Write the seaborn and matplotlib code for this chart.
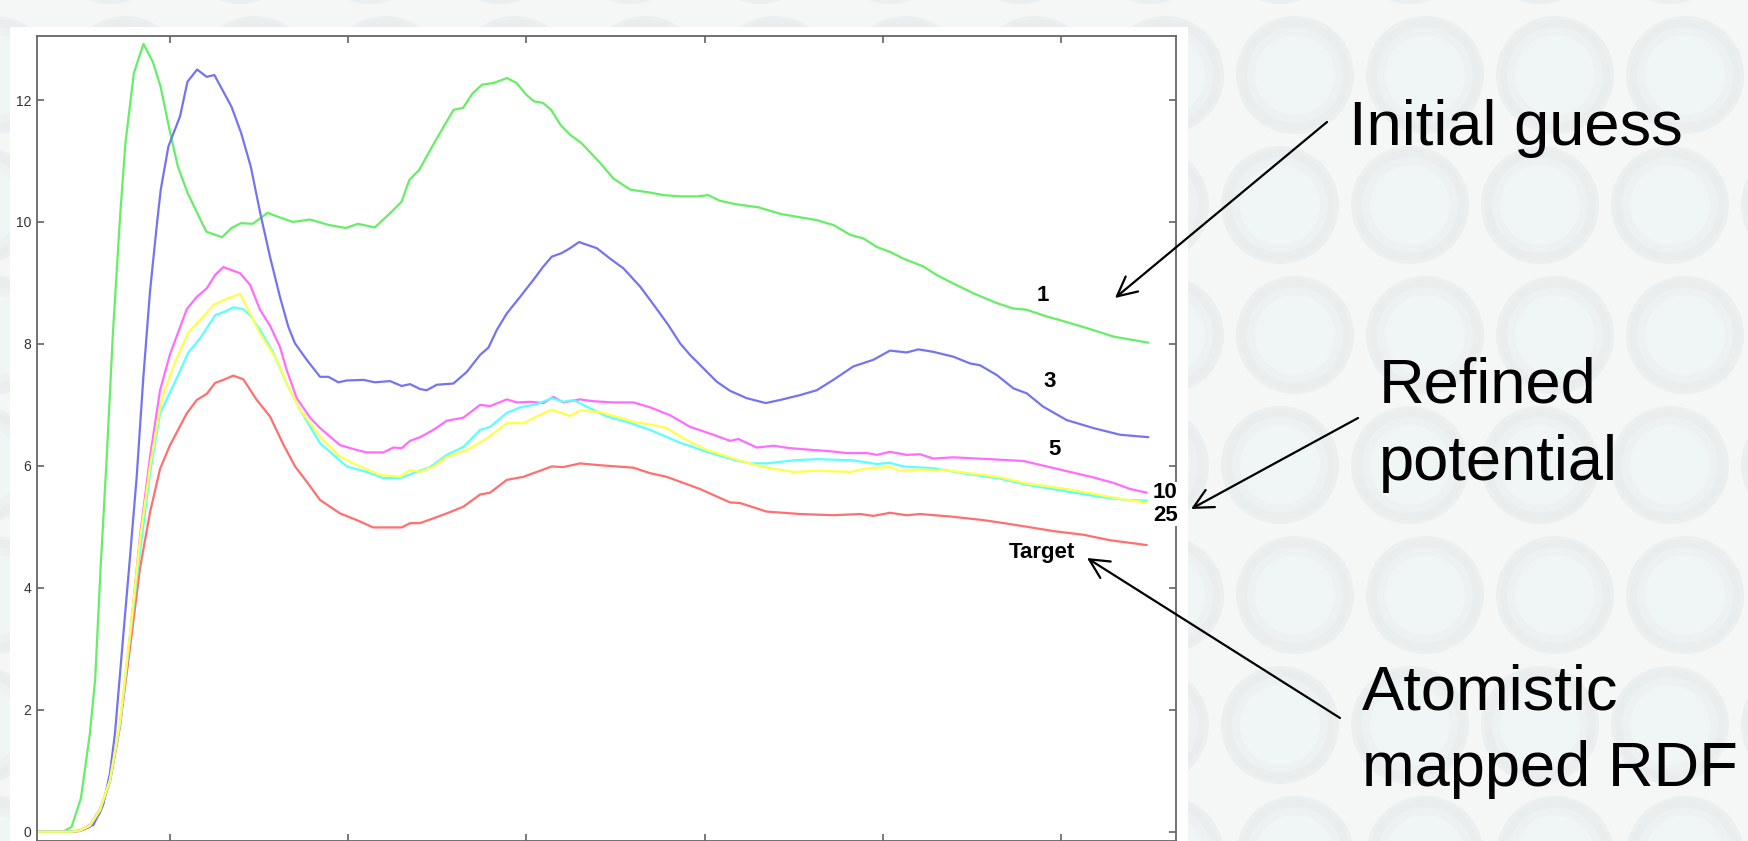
import numpy as np
import pandas as pd
import matplotlib
matplotlib.use("Agg")
import matplotlib.pyplot as plt
import seaborn as sns
from matplotlib.patches import Ellipse, Rectangle, FancyArrowPatch

# ---------------- data ----------------
r_1 = [0.254, 0.40, 0.448, 0.50, 0.55, 0.58, 0.61, 0.645, 0.68, 0.72, 0.75, 0.797, 0.851, 0.903, 0.947,
       1.001, 1.044, 1.098, 1.152, 1.204, 1.292, 1.345, 1.398, 1.464, 1.548, 1.592, 1.689, 1.786, 1.892,
       1.987, 2.054, 2.149, 2.237, 2.299, 2.343, 2.397, 2.493, 2.591, 2.644, 2.698, 2.75, 2.816, 2.891,
       2.944, 2.998, 3.042, 3.094, 3.138, 3.192, 3.245, 3.31, 3.413, 3.489, 3.583, 3.677, 3.771, 3.864,
       3.958, 4.021, 4.083, 4.177, 4.303, 4.428, 4.629, 4.722, 4.816, 4.891, 4.966, 5.04, 5.115, 5.227,
       5.302, 5.396, 5.508, 5.639, 5.733, 5.807, 5.919, 5.994, 6.144, 6.294, 6.49]
v_1 = [0, 0, 0.08, 0.55, 1.6, 2.5, 4.3, 6.15, 8.2, 10.1, 11.3, 12.44, 12.92, 12.63, 12.22,
       11.46, 10.91, 10.48, 10.15, 9.84, 9.75, 9.90, 9.98, 9.97, 10.15, 10.10, 10.0, 10.04, 9.95,
       9.90, 9.97, 9.91, 10.15, 10.33, 10.69, 10.85, 11.35, 11.84, 11.87, 12.11, 12.25, 12.28, 12.36,
       12.28, 12.09, 11.98, 11.95, 11.84, 11.59, 11.43, 11.29, 10.97, 10.71, 10.53, 10.49, 10.44, 10.42,
       10.42, 10.44, 10.35, 10.29, 10.24, 10.13, 10.03, 9.95, 9.79, 9.73, 9.59, 9.51, 9.40, 9.27,
       9.13, 8.99, 8.83, 8.67, 8.58, 8.56, 8.45, 8.39, 8.26, 8.12, 8.02]

r_3 = [0.254, 0.45, 0.495, 0.57, 0.625, 0.663, 0.691, 0.738, 0.776, 0.813, 0.85, 0.888, 0.927, 0.948,
       0.991, 1.056, 1.098, 1.152, 1.206, 1.249, 1.345, 1.399, 1.453, 1.506, 1.561, 1.617, 1.664, 1.701,
       1.767, 1.842, 1.889, 1.945, 1.992, 2.086, 2.15, 2.235, 2.30, 2.347, 2.403, 2.44, 2.497, 2.59,
       2.665, 2.74, 2.787, 2.834, 2.89, 2.964, 3.039, 3.095, 3.142, 3.198, 3.245, 3.295, 3.395, 3.469,
       3.544, 3.638, 3.722, 3.796, 3.862, 3.918, 3.993, 4.068, 4.143, 4.236, 4.343, 4.423, 4.535, 4.629,
       4.722, 4.834, 4.947, 5.04, 5.134, 5.199, 5.283, 5.396, 5.489, 5.545, 5.639, 5.733, 5.807, 5.9,
       6.032, 6.181, 6.331, 6.49]
v_3 = [0, 0, 0.02, 0.11, 0.44, 0.96, 1.61, 3.23, 4.52, 5.82, 7.44, 8.87, 9.98, 10.53,
       11.24, 11.73, 12.30, 12.50, 12.38, 12.41, 11.89, 11.46, 10.91, 10.15, 9.43, 8.77, 8.28, 8.01,
       7.74, 7.46, 7.46, 7.37, 7.40, 7.41, 7.37, 7.39, 7.31, 7.34, 7.26, 7.24, 7.33, 7.35,
       7.54, 7.82, 7.94, 8.23, 8.50, 8.77, 9.05, 9.27, 9.43, 9.49, 9.57, 9.67, 9.57, 9.40,
       9.24, 8.94, 8.61, 8.31, 8.01, 7.82, 7.60, 7.38, 7.23, 7.11, 7.03, 7.08, 7.16, 7.24,
       7.41, 7.63, 7.74, 7.89, 7.86, 7.91, 7.87, 7.79, 7.68, 7.65, 7.49, 7.27, 7.19, 6.97,
       6.75, 6.62, 6.51, 6.47]

r_5 = [0.254, 0.45, 0.495, 0.551, 0.607, 0.663, 0.719, 0.776, 0.832, 0.888, 0.944, 1.0, 1.094, 1.150,
       1.206, 1.253, 1.299, 1.393, 1.449, 1.505, 1.561, 1.617, 1.655, 1.711, 1.786, 1.842, 1.954, 2.048,
       2.104, 2.197, 2.253, 2.30, 2.347, 2.403, 2.478, 2.553, 2.646, 2.74, 2.796, 2.89, 2.946, 3.02,
       3.095, 3.151, 3.207, 3.30, 3.375, 3.488, 3.60, 3.694, 3.806, 3.918, 4.049, 4.143, 4.189, 4.293,
       4.386, 4.479, 4.61, 4.704, 4.797, 4.91, 4.966, 5.04, 5.134, 5.209, 5.283, 5.396, 5.527, 5.658,
       5.789, 5.92, 6.051, 6.182, 6.294, 6.388, 6.481]
v_5 = [0, 0, 0.02, 0.11, 0.37, 0.83, 1.73, 3.23, 4.85, 6.15, 7.24, 7.83, 8.57, 8.77,
       8.91, 9.13, 9.26, 9.16, 8.97, 8.56, 8.30, 7.95, 7.57, 7.11, 6.79, 6.62, 6.34, 6.26,
       6.22, 6.22, 6.30, 6.29, 6.41, 6.47, 6.59, 6.74, 6.79, 7.0, 6.98, 7.09, 7.04, 7.05,
       7.03, 7.13, 7.04, 7.09, 7.06, 7.04, 7.04, 6.96, 6.83, 6.64, 6.51, 6.41, 6.44, 6.30,
       6.33, 6.29, 6.26, 6.24, 6.21, 6.21, 6.18, 6.23, 6.18, 6.19, 6.12, 6.14, 6.12, 6.10,
       6.08, 5.99, 5.90, 5.81, 5.72, 5.62, 5.56]

r_10 = [0.254, 0.45, 0.495, 0.551, 0.607, 0.663, 0.719, 0.776, 0.832, 0.888, 0.944, 1.038, 1.103, 1.168,
        1.253, 1.309, 1.355, 1.411, 1.449, 1.505, 1.58, 1.655, 1.73, 1.842, 1.992, 2.104, 2.197, 2.291,
        2.366, 2.459, 2.553, 2.646, 2.74, 2.796, 2.89, 2.964, 3.058, 3.142, 3.207, 3.264, 3.339, 3.451,
        3.563, 3.694, 3.862, 4.012, 4.161, 4.255, 4.348, 4.498, 4.629, 4.834, 4.966, 5.04, 5.115, 5.283,
        5.47, 5.658, 5.807, 6.032, 6.219, 6.369, 6.481]
v_10 = [0, 0, 0.02, 0.10, 0.35, 0.83, 1.75, 3.2, 4.6, 5.88, 6.86, 7.44, 7.86, 8.09,
        8.47, 8.53, 8.60, 8.57, 8.47, 8.23, 7.85, 7.35, 6.92, 6.37, 5.99, 5.90, 5.80, 5.80,
        5.88, 5.98, 6.18, 6.31, 6.59, 6.64, 6.87, 6.96, 7.01, 7.11, 7.05, 7.08, 6.97, 6.81,
        6.72, 6.59, 6.38, 6.23, 6.10, 6.04, 6.04, 6.09, 6.11, 6.09, 6.03, 6.05, 5.99, 5.96,
        5.87, 5.79, 5.69, 5.58, 5.49, 5.44, 5.43]

r_25 = [0.254, 0.45, 0.495, 0.551, 0.607, 0.663, 0.719, 0.776, 0.832, 0.888, 0.944, 0.962, 1.028, 1.103,
        1.187, 1.243, 1.318, 1.393, 1.449, 1.505, 1.599, 1.655, 1.73, 1.842, 1.954, 2.066, 2.178, 2.291,
        2.347, 2.403, 2.478, 2.553, 2.665, 2.777, 2.89, 2.983, 3.058, 3.142, 3.245, 3.301, 3.413, 3.525,
        3.60, 3.694, 3.787, 3.881, 4.012, 4.161, 4.311, 4.498, 4.629, 4.816, 4.91, 5.04, 5.097, 5.209,
        5.377, 5.564, 5.658, 5.807, 6.032, 6.219, 6.369, 6.481]
v_25 = [0, 0, 0.02, 0.10, 0.36, 0.85, 1.80, 3.25, 4.80, 6.0, 6.95, 7.18, 7.70, 8.19,
        8.45, 8.64, 8.74, 8.82, 8.50, 8.17, 7.74, 7.35, 6.92, 6.48, 6.15, 5.99, 5.85, 5.82,
        5.93, 5.90, 5.99, 6.15, 6.26, 6.45, 6.70, 6.70, 6.81, 6.92, 6.82, 6.91, 6.88, 6.79,
        6.72, 6.68, 6.62, 6.45, 6.26, 6.12, 5.99, 5.90, 5.92, 5.90, 5.96, 5.98, 5.92, 5.94,
        5.92, 5.85, 5.81, 5.71, 5.62, 5.52, 5.44, 5.40]

r_target = [0.254, 0.45, 0.495, 0.551, 0.607, 0.663, 0.719, 0.776, 0.832, 0.888, 0.944, 1.0, 1.094, 1.15,
            1.206, 1.253, 1.299, 1.355, 1.411, 1.487, 1.561, 1.636, 1.702, 1.767, 1.842, 1.954, 2.048,
            2.141, 2.216, 2.30, 2.347, 2.403, 2.478, 2.553, 2.646, 2.74, 2.796, 2.89, 2.983, 3.058, 3.142,
            3.207, 3.301, 3.413, 3.507, 3.60, 3.694, 3.787, 3.974, 4.143, 4.199, 4.348, 4.535, 4.722,
            4.872, 4.947, 5.04, 5.134, 5.209, 5.377, 5.564, 5.658, 5.789, 5.957, 6.125, 6.275, 6.406, 6.481]
v_target = [0, 0, 0.01, 0.08, 0.31, 0.83, 1.73, 3.03, 4.33, 5.24, 5.95, 6.34, 6.86, 7.08,
            7.18, 7.36, 7.41, 7.48, 7.42, 7.08, 6.81, 6.35, 5.99, 5.74, 5.44, 5.22, 5.11,
            4.99, 4.99, 4.99, 5.06, 5.06, 5.14, 5.22, 5.33, 5.53, 5.56, 5.77, 5.82, 5.90, 5.99,
            5.98, 6.04, 6.01, 5.99, 5.97, 5.88, 5.82, 5.62, 5.40, 5.39, 5.25, 5.21, 5.19,
            5.21, 5.18, 5.23, 5.19, 5.21, 5.17, 5.11, 5.07, 5.01, 4.93, 4.87, 4.78, 4.73, 4.70]

series_names = ["Target", "1", "3", "5", "10", "25"]
series_colors = ["#ff6f6f", "#66ee66", "#7474f2", "#ff6cff", "#5cffff", "#ffff4a"]
y_ticks = [0, 2, 4, 6, 8, 10, 12]
x_ticks = [1, 2, 3, 4, 5, 6]

curve_labels = ["1", "3", "5", "10", "25", "Target"]
curve_label_r = [5.90, 5.938, 5.966, 6.584, 6.584, 5.892]
curve_label_v = [8.80, 7.38, 6.26, 5.56, 5.19, 4.58]

# ---------------- build long table ----------------
frames = []
for name, rr, vv in [("Target", r_target, v_target), ("1", r_1, v_1), ("3", r_3, v_3),
                     ("5", r_5, v_5), ("10", r_10, v_10), ("25", r_25, v_25)]:
    frames.append(pd.DataFrame({"r": rr, "g": vv, "series": name}))
df = pd.concat(frames, ignore_index=True)

# ---------------- figure ----------------
sns.set_theme(style="white")
plt.rcParams["font.family"] = ["Liberation Sans", "DejaVu Sans"]

W, H = 1749, 841
fig = plt.figure(figsize=(W / 100, H / 100), dpi=100)
fig.patch.set_facecolor("#f5f7f7")

# faint, soft decorative sphere pattern in the background
for j, cy in enumerate(np.arange(-55, H + 130, 130)):
    for i, cx in enumerate(np.arange(-20 + (j % 2) * 15, W + 130, 130)):
        for dia, col in [(118, "#eceff0"), (110, "#e9eded"), (96, "#edf1f1"), (80, "#f0f5f5")]:
            fig.add_artist(Ellipse((cx / W, 1 - cy / H), dia / W, dia / H,
                                   transform=fig.transFigure, facecolor=col,
                                   edgecolor="none", zorder=-3))

# white panel behind the plot
fig.add_artist(Rectangle((10 / W, 0), 1178 / W, (H - 27) / H, transform=fig.transFigure,
                         facecolor="white", edgecolor="none", zorder=-1))

ax_left, ax_right, ax_top = 37, 1176, 36
ax = fig.add_axes([ax_left / W, 0, (ax_right - ax_left) / W, (H - ax_top) / H])
ax.set_facecolor("white")

sns.lineplot(data=df, x="r", y="g", hue="series", hue_order=series_names,
             palette=dict(zip(series_names, series_colors)), estimator=None,
             units="series", sort=False, linewidth=1.6, legend=False, ax=ax)

ax.set_xlim(0.2536, 6.645)
ax.set_ylim(-0.153, 13.05)
ax.set_xticks(x_ticks)
ax.set_yticks(y_ticks)
ax.set_yticklabels([str(t) for t in y_ticks])
ax.set_xlabel("")
ax.set_ylabel("")
ax.tick_params(axis="both", direction="in", length=5, width=1.1, color="#555555",
               top=True, right=True, bottom=True, left=True,
               labelbottom=False, labelsize=10, labelcolor="#333333", pad=4)
for s in ax.spines.values():
    s.set_color("#666666")
    s.set_linewidth(1.3)

for lab, rr, vv in zip(curve_labels, curve_label_r, curve_label_v):
    kw = {}
    if lab in ("10", "25"):
        kw["bbox"] = dict(facecolor="white", edgecolor="none", pad=0.5)
    ax.text(rr, vv, lab, ha="center", va="center", fontsize=16, fontweight="bold",
            color="black", zorder=5, clip_on=False, **kw)

# ---------------- right-hand annotations ----------------
def fx(x):
    return x / W

def fy(y):
    return 1 - y / H

big = dict(fontsize=45.5, color="black", ha="left", va="baseline")
fig.text(fx(1349), fy(145), "Initial guess", **big)
fig.text(fx(1379), fy(403), "Refined", **big)
fig.text(fx(1379), fy(480), "potential", **big)
fig.text(fx(1362), fy(710), "Atomistic", **big)
fig.text(fx(1362), fy(786), "mapped RDF", **big)

arrows = [((1327, 122), (1115, 298)),
          ((1358, 418), (1191, 509)),
          ((1340, 718), (1087, 558))]
for (x0, y0), (x1, y1) in arrows:
    fig.add_artist(FancyArrowPatch((fx(x0), fy(y0)), (fx(x1), fy(y1)),
                                   transform=fig.transFigure,
                                   arrowstyle="->,head_length=0.7,head_width=0.35",
                                   mutation_scale=20, linewidth=1.6, color="black",
                                   shrinkA=0, shrinkB=0, zorder=10))

fig.savefig("out.png", dpi=100, facecolor=fig.get_facecolor())
